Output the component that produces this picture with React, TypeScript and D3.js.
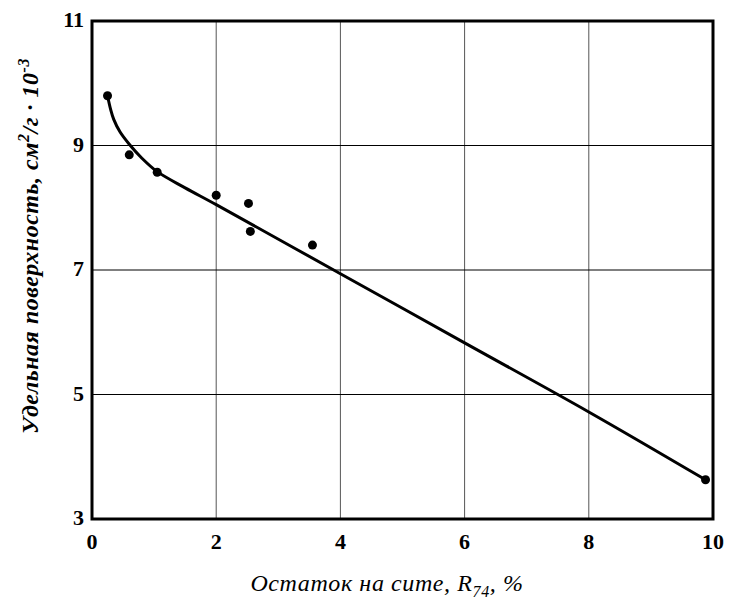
import React, { useEffect, useRef } from 'react';
import * as d3 from 'd3';

// measured points: sieve residue R74 (%) vs specific surface (cm2/g * 10^-3)
const residue = [0.25, 0.6, 1.05, 2.0, 2.52, 2.55, 3.55, 9.88];
const surface = [9.8, 8.85, 8.57, 8.2, 8.07, 7.62, 7.4, 3.63];

// fitted curve
const curveX = [0.25, 0.3, 0.35, 0.45, 0.6, 0.8, 1.05, 1.5, 2, 4, 6, 8, 9.88];
const curveY = [9.8, 9.58, 9.42, 9.22, 9.02, 8.8, 8.58, 8.32, 8.05, 6.94, 5.83, 4.72, 3.63];

const xTicks = [0, 2, 4, 6, 8, 10];
const yTicks = [3, 5, 7, 9, 11];

const App = () => {
  const svgRef = useRef(null);

  useEffect(() => {
    const width = 735;
    const height = 601;
    const margin = { top: 21, right: 22, bottom: 82, left: 92 };

    const svg = d3.select(svgRef.current);
    svg.selectAll('*').remove();
    svg.attr('width', width).attr('height', height);

    const x = d3.scaleLinear()
      .domain([0, 10])
      .range([margin.left, width - margin.right]);

    const y = d3.scaleLinear()
      .domain([3, 11])
      .range([height - margin.bottom, margin.top]);

    // grid
    svg.append('g')
      .selectAll('line')
      .data(xTicks.slice(1, -1))
      .join('line')
      .attr('x1', d => x(d))
      .attr('x2', d => x(d))
      .attr('y1', margin.top)
      .attr('y2', height - margin.bottom)
      .attr('stroke', '#555')
      .attr('stroke-width', 1);

    svg.append('g')
      .selectAll('line')
      .data(yTicks.slice(1, -1))
      .join('line')
      .attr('x1', margin.left)
      .attr('x2', width - margin.right)
      .attr('y1', d => y(d))
      .attr('y2', d => y(d))
      .attr('stroke', '#000')
      .attr('stroke-width', 1);

    // frame
    svg.append('rect')
      .attr('x', margin.left)
      .attr('y', margin.top)
      .attr('width', width - margin.left - margin.right)
      .attr('height', height - margin.top - margin.bottom)
      .attr('fill', 'none')
      .attr('stroke', '#000')
      .attr('stroke-width', 3);

    // tick labels
    svg.append('g')
      .selectAll('text')
      .data(xTicks)
      .join('text')
      .attr('x', d => x(d))
      .attr('y', height - margin.bottom + 30)
      .attr('text-anchor', 'middle')
      .attr('font-family', '"Liberation Serif", serif')
      .attr('font-weight', 'bold')
      .attr('font-size', 22)
      .text(d => d);

    svg.append('g')
      .selectAll('text')
      .data(yTicks)
      .join('text')
      .attr('x', margin.left - 8)
      .attr('y', d => y(d) + 6)
      .attr('text-anchor', 'end')
      .attr('font-family', '"Liberation Serif", serif')
      .attr('font-weight', 'bold')
      .attr('font-size', 22)
      .text(d => d);

    // fitted curve
    const line = d3.line()
      .x(d => x(d[0]))
      .y(d => y(d[1]))
      .curve(d3.curveCatmullRom.alpha(0.5));

    svg.append('path')
      .datum(curveX.map((v, i) => [v, curveY[i]]))
      .attr('d', line)
      .attr('fill', 'none')
      .attr('stroke', '#000')
      .attr('stroke-width', 3);

    // points
    svg.append('g')
      .selectAll('circle')
      .data(residue.map((v, i) => [v, surface[i]]))
      .join('circle')
      .attr('cx', d => x(d[0]))
      .attr('cy', d => y(d[1]))
      .attr('r', 4.5)
      .attr('fill', '#000');

    // x axis title
    const xt = svg.append('text')
      .attr('x', 387)
      .attr('y', 591)
      .attr('text-anchor', 'middle')
      .attr('font-family', '"Liberation Serif", serif')
      .attr('font-style', 'italic')
      .attr('font-size', 24)
      .attr('letter-spacing', 0.6);
    xt.append('tspan').text('Остаток на сите, R');
    xt.append('tspan').attr('font-size', 16).attr('dy', 6).text('74');
    xt.append('tspan').attr('dy', -6).text(', %');

    // y axis title
    const yt = svg.append('text')
      .attr('transform', 'rotate(-90)')
      .attr('x', -246)
      .attr('y', 38)
      .attr('text-anchor', 'middle')
      .attr('font-family', '"Liberation Serif", serif')
      .attr('font-style', 'italic')
      .attr('font-weight', 'bold')
      .attr('font-size', 24)
      .attr('letter-spacing', 0.5);
    yt.append('tspan').text('Удельная поверхность, см');
    yt.append('tspan').attr('font-size', 16).attr('dy', -9).text('2');
    yt.append('tspan').attr('dy', 9).text('/г · 10');
    yt.append('tspan').attr('font-size', 16).attr('dy', -9).text('-3');
  });

  return <svg ref={svgRef} style={{ position: 'absolute', left: 0, top: 0 }}></svg>;
};

export default App;
